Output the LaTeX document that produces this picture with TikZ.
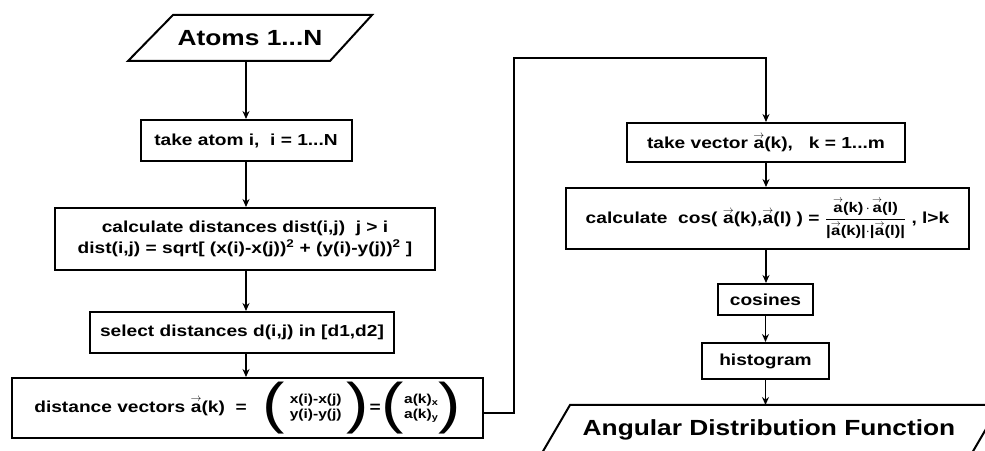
\documentclass[tikz,border=0pt]{standalone}
\usepackage{fontspec}
\usepackage{graphicx}
\setmainfont{Liberation Sans}[FakeStretch=1.2]
\usetikzlibrary{arrows.meta}

% fonts used in the chart
\newcommand\boxfont{\fontsize{16}{21}\selectfont\bfseries}
\newcommand\titlefont{\fontsize{22}{26}\selectfont\bfseries}
\newcommand\smallf{\fontsize{13}{15}\selectfont}
\newcommand\fracf{\fontsize{14}{16}\selectfont}
% vector a with a small arrow over it
\newcommand\vecA{\ensuremath{\mathord{\mathop{\mbox{a}}\limits^{\rightarrow}}}}
% tall parenthesis, centred on the math axis
\newcommand\tallparen[1]{\vcenter{\hbox{\resizebox*{!}{52bp}{\mdseries #1}}}}

\tikzset{
  stepbox/.style={draw, line width=2bp, inner sep=0pt, align=center, font=\boxfont},
  iobox/.style={inner sep=0pt, font=\titlefont},
  arr/.style={-{Stealth[length=8bp,width=7bp]}, line width=1.6bp},
  frame/.style={line width=2bp, line join=miter},
}

\begin{document}
\begin{tikzpicture}[x=1bp, y=-1bp]
  \useasboundingbox (0,0) rectangle (985,451);
  \fill[white] (0,0) rectangle (985,451);
  \clip (0,0) rectangle (985,451);

  % input: atoms
  \draw[frame] (173,15) -- (372,15) -- (330,61) -- (128,61) -- cycle;
  \node[iobox, minimum height=46bp] (atoms) at (250,38) {Atoms 1...N};

  % left column
  \node[stepbox, minimum width=211bp, minimum height=41bp] (tk) at (246,140.5)
    {take atom i,\ \ i = 1...N};
  \node[stepbox, minimum width=380bp, minimum height=62bp] (calc) at (245,239)
    {calculate distances dist(i,j)\ \ j > i\\
     dist(i,j) = sqrt[ (x(i)-x(j))\textsuperscript{2} + (y(i)-y(j))\textsuperscript{2} ]};
  \node[stepbox, minimum width=304bp, minimum height=41bp] (sel) at (242,332.5)
    {select distances d(i,j) in [d1,d2]};
  \node[stepbox, minimum width=471bp, minimum height=60bp] (dv) at (247.5,408)
    {distance vectors \vecA(k)\ \ =\ \ \ $\tallparen{(}\;
      \vcenter{\hbox{\smallf\begin{tabular}{@{}c@{}}x(i)-x(j)\\ y(i)-y(j)\end{tabular}}}
      \;\tallparen{)}$\kern1bp=\kern1bp$\tallparen{(}
      \vcenter{\hbox{\smallf\begin{tabular}{@{}l@{}}a(k)\textsubscript{x}\\ a(k)\textsubscript{y}\end{tabular}}}
      \tallparen{)}$};

  % right column
  \node[stepbox, minimum width=278bp, minimum height=39bp] (tv) at (766,142.5)
    {take vector \vecA(k),\ \ \ k = 1...m};
  \node[stepbox, minimum width=403bp, minimum height=61bp] (cc) at (767.5,218.5)
    {calculate\ \ cos( \vecA(k),\vecA(l) ) = ${\displaystyle\frac{\mbox{\fracf\vecA(k)\,$\cdot$\,\vecA(l)}}
      {\mbox{\fracf\rule{0pt}{12bp}|\vecA(k)|$\cdot$|\vecA(l)|}}}$ , l>k};
  \node[stepbox, minimum width=95bp, minimum height=31bp] (cs) at (765.5,299.5) {cosines};
  \node[stepbox, minimum width=127bp, minimum height=36bp] (hist) at (765.5,361) {histogram};

  % output: angular distribution function
  \draw[frame] (570,405) -- (1000,405) -- (965,465) -- (535,465) -- cycle;
  \node[iobox, minimum height=46bp] (adf) at (769,430) {Angular Distribution Function};
  \coordinate (adftop) at (765.5,405);

  % connectors
  \draw[arr] (atoms.south -| tk.north) -- (tk.north);
  \draw[arr] (tk.south) -- (tk.south |- calc.north);
  \draw[arr] (tk.south |- calc.south) -- (tk.south |- sel.north);
  \draw[arr] (tk.south |- sel.south) -- (tk.south |- dv.north);
  \coordinate (turn) at (514,58);
  \draw[arr] ([yshift=-5bp]dv.east) -| (turn) -| (tv.north);
  \draw[arr] (tv.south) -- (tv.south |- cc.north);
  \draw[arr] (tv.south |- cc.south) -- (tv.south |- cs.north);
  \draw[arr] (cs.south) -- (cs.south |- hist.north);
  \draw[arr] (hist.south) -- (adftop);
\end{tikzpicture}
\end{document}
